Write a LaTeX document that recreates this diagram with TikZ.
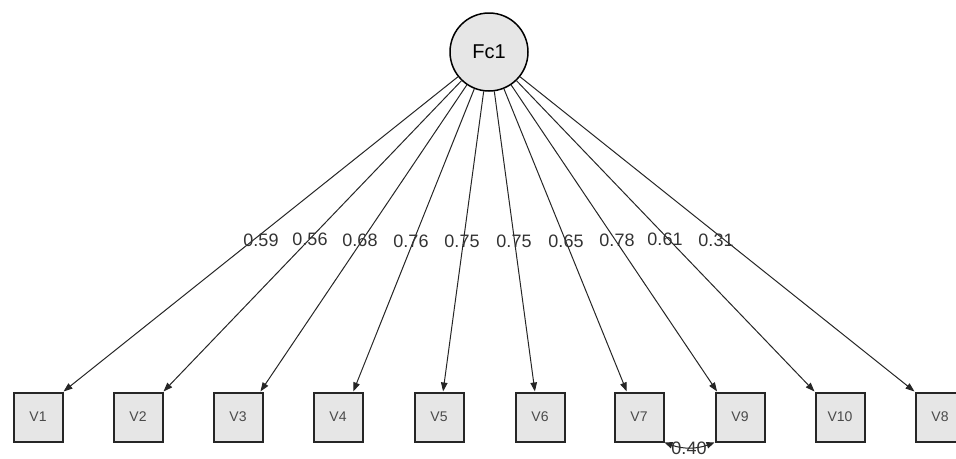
\documentclass[tikz,border=0pt]{standalone}
\usepackage{fontspec}
\setmainfont{Liberation Sans}
\usetikzlibrary{arrows.meta,calc}
\definecolor{boxfill}{HTML}{E6E6E6}
\definecolor{txtgray}{HTML}{4A4A4A}
\tikzset{
  latent/.style={circle,draw=black,line width=1.5pt,fill=boxfill,minimum size=78pt,inner sep=0pt,font=\fontsize{20}{20}\selectfont},
  obsbox/.style={rectangle,draw=black!85,line width=2pt,fill=boxfill,minimum width=49pt,minimum height=49pt,inner sep=0pt,text=txtgray,font=\fontsize{14}{14}\selectfont},
  path/.style={draw=black!85,line width=1pt,-{Triangle[length=9pt,width=6.5pt]}},
  cov/.style={draw=black!85,line width=1pt,{Triangle[length=8pt,width=6.5pt]}-{Triangle[length=8pt,width=6.5pt]}},
  lbl/.style={font=\fontsize{18}{18}\selectfont,text=black!80,inner sep=0pt}
}
\begin{document}
\begin{tikzpicture}[x=1pt,y=-1pt]
\useasboundingbox (0,0) rectangle (956,458);
\node[latent] (fc) at (489,52) {Fc1};
\node[obsbox] (v1) at (38,417) {V1};
\node[obsbox] (v2) at (138,417) {V2};
\node[obsbox] (v3) at (238,417) {V3};
\node[obsbox] (v4) at (338,417) {V4};
\node[obsbox] (v5) at (439,417) {V5};
\node[obsbox] (v6) at (540,417) {V6};
\node[obsbox] (v7) at (639,417) {V7};
\node[obsbox] (v9) at (740,417) {V9};
\node[obsbox] (v10) at (840,417) {V10};
\node[obsbox] (v8) at (940,417) {V8};
\coordinate (t1) at (v1.north east);
\coordinate (t2) at (v2.north east);
\coordinate (t3) at ($(v3.north west)!0.94!(v3.north east)$);
\coordinate (t4) at ($(v4.north west)!0.8!(v4.north east)$);
\coordinate (t5) at ($(v5.north west)!0.58!(v5.north east)$);
\coordinate (t6) at ($(v6.north west)!0.4!(v6.north east)$);
\coordinate (t7) at ($(v7.north west)!0.26!(v7.north east)$);
\coordinate (t9) at ($(v9.north west)!0.05!(v9.north east)$);
\coordinate (t10) at (v10.north west);
\coordinate (t8) at (v8.north west);
\foreach \t in {t1,t2,t3,t4,t5,t6,t7,t9,t10,t8}
  \draw[path] (fc) -- (\t);
\node[lbl] (l1) at (261,240) {0.59};
\node[lbl] (l2) at (310,239) {0.56};
\node[lbl] (l3) at (360,240) {0.68};
\node[lbl] (l4) at (411,241) {0.76};
\node[lbl] (l5) at (462,241) {0.75};
\node[lbl] (l6) at (514,241) {0.75};
\node[lbl] (l7) at (566,241) {0.65};
\node[lbl] (l8) at (617,240) {0.78};
\node[lbl] (l9) at (665,239) {0.61};
\node[lbl] (l10) at (716,240) {0.31};
\draw[cov] (v7.south east) to[bend right=20] (v9.south west);
\node[lbl] (lc) at (689,448) {0.40};
\end{tikzpicture}
\end{document}
